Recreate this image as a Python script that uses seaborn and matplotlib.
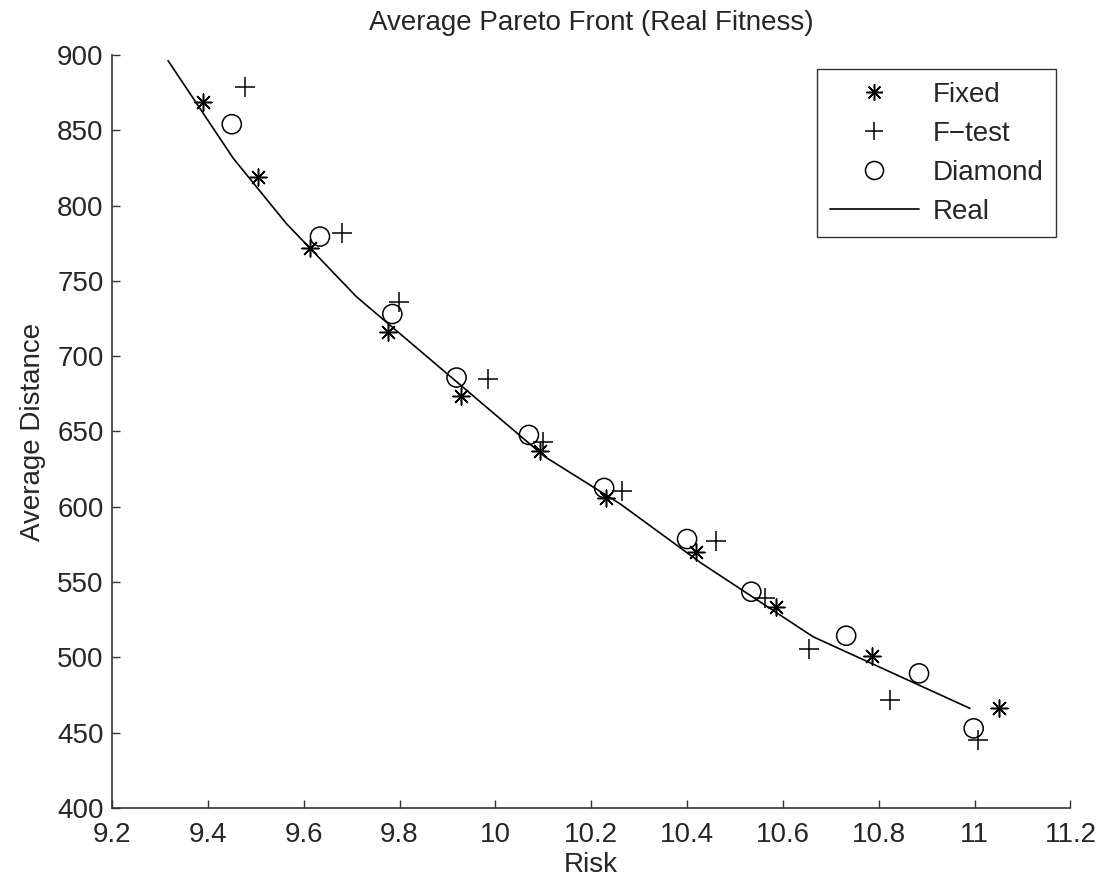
import matplotlib
matplotlib.use("Agg")
import matplotlib.pyplot as plt
from matplotlib.lines import Line2D
import seaborn as sns
import pandas as pd

# Data
fixed_risk = [9.390, 9.505, 9.614, 9.775, 9.928, 10.093, 10.230, 10.419, 10.586, 10.786, 11.050]
fixed_dist = [868.6, 819.2, 771.6, 716.0, 673.8, 637.3, 605.6, 570.2, 533.7, 501.1, 466.2]

ftest_risk = [9.477, 9.679, 9.799, 9.985, 10.100, 10.264, 10.461, 10.562, 10.654, 10.824, 11.008]
ftest_dist = [879.0, 782.0, 735.8, 684.6, 643.3, 610.8, 577.3, 539.2, 505.6, 471.7, 445.2]

diamond_risk = [9.450, 9.634, 9.785, 9.919, 10.070, 10.227, 10.400, 10.534, 10.732, 10.884, 10.998]
diamond_dist = [854.0, 779.4, 728.0, 685.8, 647.7, 612.5, 578.6, 543.6, 514.4, 489.4, 452.9]

real_risk = [9.317, 9.453, 9.564, 9.710, 10.103, 10.261, 10.430, 10.663, 10.990]
real_dist = [896.2, 831.4, 788.0, 739.5, 633.3, 601.8, 562.5, 513.7, 466.2]

x_ticks = [9.2, 9.4, 9.6, 9.8, 10.0, 10.2, 10.4, 10.6, 10.8, 11.0, 11.2]
y_ticks = [400, 450, 500, 550, 600, 650, 700, 750, 800, 850, 900]

sns.set_style("ticks")
plt.rcParams['font.family'] = ['Liberation Sans', 'DejaVu Sans']
plt.rcParams['xtick.direction'] = 'in'
plt.rcParams['ytick.direction'] = 'in'

fig = plt.figure(figsize=(11.13, 8.86), dpi=100)
ax = fig.add_axes([0.1006, 0.088, 0.8612, 0.850])

real_df = pd.DataFrame({"Risk": real_risk, "Dist": real_dist})
sns.lineplot(data=real_df, x="Risk", y="Dist", ax=ax, color="black", linewidth=1.2,
             sort=False, estimator=None)

asterisk = (8, 2, 0)
sns.scatterplot(x=fixed_risk, y=fixed_dist, ax=ax, marker=asterisk, s=150,
                color="black", edgecolor="black", linewidth=1.1)
sns.scatterplot(x=ftest_risk, y=ftest_dist, ax=ax, marker="+", s=190,
                color="black", linewidth=1.1)
sns.scatterplot(x=diamond_risk, y=diamond_dist, ax=ax, marker="o", s=190,
                facecolor="none", edgecolor="black", linewidth=1.1)

ax.set_xlim(9.2, 11.2)
ax.set_ylim(400, 900)
ax.set_xticks(x_ticks)
ax.set_yticks(y_ticks)
ax.set_xticklabels([f"{v:g}" for v in x_ticks])
ax.set_yticklabels([f"{v:g}" for v in y_ticks])
ax.tick_params(axis="both", labelsize=20, length=6, width=1, color="#333333")
ax.tick_params(axis="x", pad=10)
ax.tick_params(axis="y", pad=6)
for s in ["top", "right"]:
    ax.spines[s].set_visible(False)
for s in ["left", "bottom"]:
    ax.spines[s].set_linewidth(1.2)
    ax.spines[s].set_color("#333333")

ax.set_xlabel("Risk", fontsize=20, labelpad=3)
ax.set_ylabel("Average Distance", fontsize=20, labelpad=8)
ax.set_title("Average Pareto Front (Real Fitness)", fontsize=20, pad=18)

handles = [
    Line2D([], [], color="black", marker=asterisk, linestyle="none", markersize=12, markeredgewidth=1.1),
    Line2D([], [], color="black", marker="+", linestyle="none", markersize=13, markeredgewidth=1.1),
    Line2D([], [], color="black", marker="o", markerfacecolor="none", linestyle="none", markersize=13, markeredgewidth=1.1),
    Line2D([], [], color="black", linewidth=1.2),
]
labels = ["Fixed", "F\u2212test", "Diamond", "Real"]
leg = ax.legend(handles, labels, loc="upper right", bbox_to_anchor=(0.985, 0.981),
                borderaxespad=0.0,
                fontsize=20, frameon=True, fancybox=False, handlelength=3.2,
                handletextpad=0.5, labelspacing=0.47, borderpad=0.45)
leg.get_frame().set_edgecolor("black")
leg.get_frame().set_linewidth(1.0)

fig.savefig("out.png", dpi=100)
